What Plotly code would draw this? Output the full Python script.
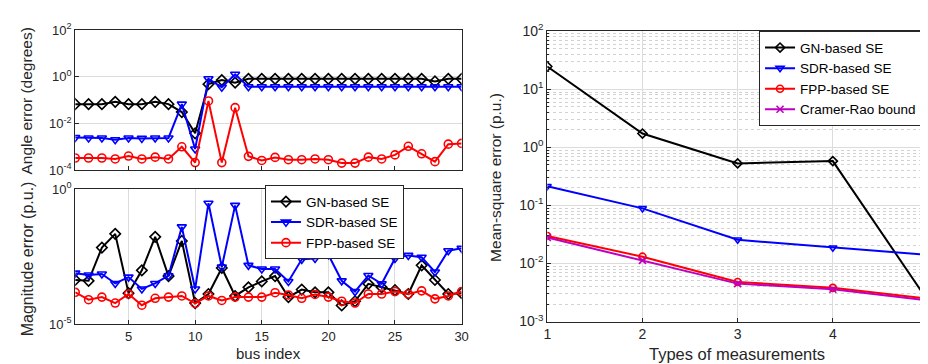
import plotly.graph_objects as go

bus = list(range(1, 31))

angle_gn = [0.068, 0.068, 0.068, 0.085, 0.068, 0.068, 0.085, 0.068, 0.031, 0.0038,
            0.49, 0.73, 0.57, 0.83, 0.83, 0.83, 0.83, 0.83, 0.83, 0.83,
            0.83, 0.83, 0.83, 0.83, 0.83, 0.83, 0.83, 0.64, 0.83, 0.83]
angle_sdr = [0.0025, 0.0024, 0.0024, 0.002, 0.0024, 0.0023, 0.0024, 0.0024, 0.068, 0.0008,
             0.83, 0.36, 1.3, 0.38, 0.38, 0.38, 0.38, 0.38, 0.38, 0.38,
             0.38, 0.38, 0.38, 0.38, 0.38, 0.38, 0.38, 0.38, 0.38, 0.38]
angle_fpp = [3.3e-4, 3.3e-4, 3.3e-4, 3.0e-4, 4.0e-4, 3.0e-4, 3.6e-4, 3.0e-4, 1.0e-3, 2.1e-4,
             0.093, 2.1e-4, 0.048, 3.9e-4, 2.6e-4, 3.5e-4, 2.8e-4, 2.8e-4, 3.0e-4, 2.8e-4,
             2.0e-4, 2.0e-4, 3.6e-4, 3.0e-4, 4.5e-4, 1.05e-3, 5.0e-4, 2.3e-4, 1.3e-3, 1.4e-3]

mag_gn = [4.3e-4, 4.0e-4, 6.8e-3, 0.022, 1.4e-4, 9.8e-4, 0.017, 6.0e-4, 0.012, 6.0e-5,
          1.3e-4, 1.2e-3, 1.1e-4, 2.3e-4, 3.8e-4, 6.0e-4, 1.0e-4, 1.9e-4, 1.5e-4, 1.5e-4,
          4.9e-5, 7.0e-5, 3.1e-4, 2.3e-4, 1.8e-4, 1.3e-4, 1.5e-3, 4.3e-4, 1.3e-4, 1.4e-4]
mag_sdr = [7.7e-4, 6.6e-4, 7.2e-4, 3.2e-4, 5.5e-4, 2.0e-4, 3.2e-4, 6.2e-4, 0.04, 2.0e-4,
           0.30, 1.3e-3, 0.25, 1.5e-3, 1.1e-3, 1.1e-3, 3.8e-4, 2.5e-3, 2.7e-3, 3.7e-3,
           4.0e-4, 1.6e-4, 6.3e-4, 3.1e-4, 2.7e-3, 3.5e-3, 3.0e-3, 8.5e-4, 5.2e-3, 6.4e-3]
mag_fpp = [1.5e-4, 8.0e-5, 1.0e-4, 6.0e-5, 1.3e-4, 5.0e-5, 9.0e-5, 1.0e-4, 1.1e-4, 5.8e-5,
           1.1e-4, 7.5e-5, 1.0e-4, 1.0e-4, 1.0e-4, 1.45e-4, 1.2e-4, 9.0e-5, 1.25e-4, 1.0e-4,
           7.0e-5, 6.0e-5, 1.3e-4, 1.3e-4, 1.6e-4, 1.3e-4, 1.7e-4, 8.6e-5, 1.1e-4, 1.6e-4]

types = [1, 2, 3, 4, 5]
mse_gn = [24.8, 1.73, 0.53, 0.58, 0.00226]
mse_sdr = [0.214, 0.089, 0.0256, 0.0187, 0.014]
mse_fpp = [0.0298, 0.0131, 0.0048, 0.0038, 0.00247]
mse_crb = [0.028, 0.0113, 0.0045, 0.0036, 0.0023]

angle_exps = [-4, -2, 0, 2]
mag_exps = [-5, 0]
mse_exps = [-3, -2, -1, 0, 1, 2]
bus_ticks = [5, 10, 15, 20, 25, 30]

names = ["GN-based SE", "SDR-based SE", "FPP-based SE", "Cramer-Rao bound"]
colors = ["#000000", "#0000FF", "#FF0000", "#C000C0"]
symbols = ["diamond-open", "triangle-down-open", "circle-open", "x-thin-open"]

W, H = 928, 364
FONT = "Liberation Sans, Arial, sans-serif"
AXC = "#262626"

def px(x):
    return x / W

def py(y):
    return 1 - y / H

def pow_labels(exps):
    return [10.0 ** e for e in exps], ["10<sup>%d</sup>" % e for e in exps]

fig = go.Figure()

def add(x, y, i, xa, ya, show, legend, msize=8):
    fig.add_trace(go.Scatter(
        x=x, y=y, mode="lines+markers", name=names[i],
        line=dict(color=colors[i], width=2),
        marker=dict(symbol=symbols[i], size=msize, color=colors[i],
                    line=dict(color=colors[i], width=1.6)),
        xaxis=xa, yaxis=ya, showlegend=show, legend=legend))

for i, s in enumerate([angle_gn, angle_sdr, angle_fpp]):
    add(bus, s, i, "x", "y", False, "legend")
for i, s in enumerate([mag_gn, mag_sdr, mag_fpp]):
    add(bus, s, i, "x2", "y2", True, "legend")
for i, s in enumerate([mse_gn, mse_sdr, mse_fpp, mse_crb]):
    add(types, s, i, "x3", "y3", True, "legend2", msize=7)

def common(size):
    return dict(showline=True, linecolor=AXC, linewidth=1, mirror=True,
                ticks="inside", ticklen=4, tickcolor=AXC, zeroline=False,
                tickfont=dict(family=FONT, size=size, color=AXC))

av, at = pow_labels(angle_exps)
mv, mt = pow_labels(mag_exps)
sv, st = pow_labels(mse_exps)

fig.update_layout(
    width=W, height=H, margin=dict(l=0, r=0, t=0, b=0),
    paper_bgcolor="white", plot_bgcolor="white",
    font=dict(family=FONT, color=AXC),
    xaxis=dict(domain=[px(64), px(455)], range=[1, 30], tickvals=bus_ticks,
               showticklabels=False, showgrid=False, anchor="y", **common(13)),
    yaxis=dict(domain=[py(160), py(13)], type="log", range=[-4, 2],
               tickvals=av, ticktext=at, showgrid=True, gridcolor="#DCDCDC", anchor="x",
               **common(13)),
    xaxis2=dict(domain=[px(64), px(455)], range=[1, 30], tickvals=bus_ticks,
                showgrid=True, gridcolor="#DCDCDC", anchor="y2", **common(13)),
    yaxis2=dict(domain=[py(322), py(180)], type="log", range=[-5, 0],
                tickvals=mv, ticktext=mt, showgrid=False, anchor="x2", **common(13)),
    xaxis3=dict(domain=[px(541.7), px(927)], range=[1, 5], tickvals=types,
                showgrid=True, gridcolor="#DCDCDC", anchor="y3", **common(14)),
    yaxis3=dict(domain=[py(319.3), py(14)], type="log", range=[-3, 2],
                tickvals=sv, ticktext=st, showgrid=True, gridcolor="#DCDCDC", anchor="x3",
                minor=dict(dtick="D1", ticks="inside", ticklen=2, tickcolor=AXC,
                           showgrid=True, gridcolor="#D2D2D2", griddash="dot"),
                **common(14)),
    legend=dict(x=px(256), y=py(176), xanchor="left", yanchor="top",
                bgcolor="white", bordercolor="#262626", borderwidth=1,
                font=dict(family=FONT, size=13.5, color="#000000"),
                tracegroupgap=0, itemwidth=30),
    legend2=dict(x=px(756), y=py(14), xanchor="left", yanchor="top",
                 bgcolor="white", bordercolor="#262626", borderwidth=1,
                 font=dict(family=FONT, size=13.5, color="#000000"),
                 tracegroupgap=0, itemwidth=30),
)

ann = [
    dict(text="Angle error (degrees)", x=px(15), y=py(87), textangle=-90, size=15.5),
    dict(text="Magnitude error (p.u.)", x=px(16), y=py(253), textangle=-90, size=16),
    dict(text="bus index", x=px(260), y=py(353), textangle=0, size=15),
    dict(text="Mean-square error (p.u.)", x=px(490), y=py(168), textangle=-90, size=15.5),
    dict(text="Types of measurements", x=px(734), y=py(353), textangle=0, size=16.5),
]
for a in ann:
    fig.add_annotation(text=a["text"], x=a["x"], y=a["y"], xref="paper", yref="paper",
                       textangle=a["textangle"], showarrow=False, xanchor="center",
                       yanchor="middle", font=dict(family=FONT, size=a["size"], color=AXC))

fig.write_html("out.html")
